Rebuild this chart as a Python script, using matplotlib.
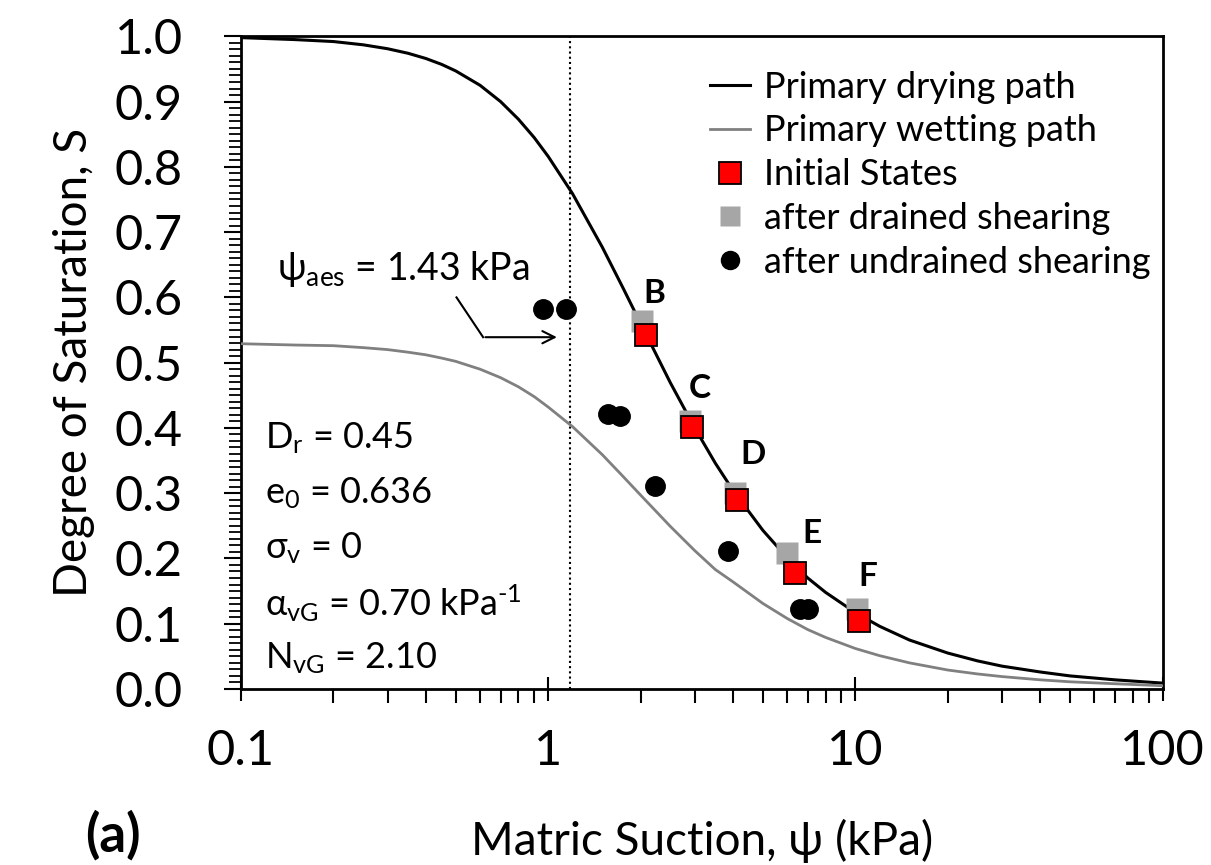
import matplotlib
matplotlib.use("Agg")
import matplotlib.pyplot as plt
from matplotlib.ticker import FixedLocator, FixedFormatter, MultipleLocator, LogLocator, NullFormatter
from matplotlib.lines import Line2D

plt.rcParams['font.family'] = ['Lato', 'Open Sans', 'DejaVu Sans']
plt.rcParams['mathtext.fontset'] = 'custom'
plt.rcParams['mathtext.rm'] = 'Lato'
plt.rcParams['mathtext.it'] = 'Lato:italic'
plt.rcParams['mathtext.bf'] = 'Lato:bold'

# primary drying / wetting paths
suction = [0.1, 0.15, 0.2, 0.25, 0.3, 0.35, 0.4, 0.45, 0.5, 0.6, 0.7, 0.8, 0.9, 1.0,
           1.2, 1.5, 1.75, 2.0, 2.5, 3.0, 3.5, 4.0, 5.0, 6.0, 7.0, 8.0, 10, 12, 15,
           20, 25, 30, 40, 50, 70, 100]
s_drying = [0.998, 0.995, 0.992, 0.987, 0.981, 0.974, 0.966, 0.957, 0.947, 0.925,
            0.900, 0.873, 0.845, 0.816, 0.759, 0.677, 0.615, 0.560, 0.469, 0.400,
            0.346, 0.304, 0.243, 0.201, 0.170, 0.148, 0.117, 0.096, 0.075, 0.055,
            0.043, 0.035, 0.026, 0.020, 0.014, 0.009]
s_wetting = [0.529, 0.527, 0.526, 0.523, 0.520, 0.516, 0.512, 0.507, 0.502, 0.490,
             0.477, 0.463, 0.448, 0.432, 0.402, 0.359, 0.326, 0.297, 0.249, 0.212,
             0.183, 0.164, 0.131, 0.108, 0.091, 0.079, 0.062, 0.051, 0.040, 0.029,
             0.023, 0.019, 0.014, 0.011, 0.008, 0.005]

# test points
labels = ['B', 'C', 'D', 'E', 'F']
init_psi = [2.08, 2.93, 4.12, 6.38, 10.3]
init_s = [0.543, 0.402, 0.290, 0.177, 0.104]
drained_psi = [2.02, 2.90, 4.05, 5.97, 10.1]
drained_s = [0.564, 0.410, 0.300, 0.209, 0.122]
undrained_psi = [0.96, 1.14, 1.57, 1.71, 2.22, 3.85, 6.6, 7.0]
undrained_s = [0.582, 0.582, 0.421, 0.419, 0.311, 0.212, 0.122, 0.122]
label_psi = [2.22, 3.12, 4.64, 7.21, 10.97]
label_s = [0.606, 0.460, 0.360, 0.238, 0.173]

psi_line = 1.18
params = [r'D$_\mathrm{r}$ = 0.45', r'e$_\mathrm{0}$ = 0.636', r'σ$_\mathrm{v}$ = 0',
          r'α$_\mathrm{vG}$ = 0.70 kPa$^\mathrm{‐1}$', r'N$_\mathrm{vG}$ = 2.10']

fig = plt.figure(figsize=(12.11, 8.65), dpi=100)
ax = fig.add_axes([0.199, 0.2035, 0.761, 0.7545])

ax.plot(suction, s_drying, color='black', lw=2.2, zorder=3)
ax.plot(suction, s_wetting, color='#808080', lw=2.0, zorder=3)
ax.axvline(psi_line, color='black', lw=1.5, ls=(0, (1, 1.5)), zorder=2)

ax.plot(drained_psi, drained_s, ls='none', marker='s', ms=16, color='#A6A6A6',
        mec='none', zorder=4)
ax.plot(init_psi, init_s, ls='none', marker='s', ms=16, mfc='#FF0000', mec='black',
        mew=1.3, zorder=5)
ax.plot(undrained_psi, undrained_s, ls='none', marker='o', ms=14, color='black', zorder=5)

for lab, x, y in zip(labels, label_psi, label_s):
    ax.text(x, y, lab, fontsize=24, fontweight='bold', ha='center', va='center')

ax.text(0.131, 0.644, r'ψ$_\mathrm{aes}$ = 1.43 kPa', fontsize=27, ha='left', va='center')
ax.plot([0.503, 0.614], [0.600, 0.539], color='black', lw=1.5)
ax.annotate('', xy=(1.09, 0.539), xytext=(0.612, 0.539),
            arrowprops=dict(arrowstyle='->', lw=1.5, color='black', mutation_scale=22))

for i, p in enumerate(params):
    ax.text(0.120, 0.385 - i * 0.0845, p, fontsize=26, ha='left', va='center')

ax.set_xscale('log')
ax.set_xlim(0.1, 100)
ax.set_ylim(0, 1)
ax.xaxis.set_major_locator(FixedLocator([0.1, 1, 10, 100]))
ax.xaxis.set_major_formatter(FixedFormatter(['0.1', '1', '10', '100']))
ax.xaxis.set_minor_locator(LogLocator(base=10, subs=range(2, 10)))
ax.xaxis.set_minor_formatter(NullFormatter())
ax.yaxis.set_major_locator(MultipleLocator(0.1))
ax.yaxis.set_minor_locator(MultipleLocator(0.01))
ax.yaxis.set_major_formatter(plt.FormatStrFormatter('%.1f'))

ax.tick_params(axis='x', which='major', direction='inout', length=17, width=1.5,
               labelsize=35, pad=20)
ax.tick_params(axis='x', which='minor', direction='out', length=10, width=1.5)
ax.tick_params(axis='y', which='major', direction='out', length=12, width=1.5,
               labelsize=35, pad=30)
ax.tick_params(axis='y', which='minor', direction='out', length=9, width=1.3)
for sp in ax.spines.values():
    sp.set_linewidth(2)

ax.set_xlabel('Matric Suction, ψ (kPa)', fontsize=33, labelpad=33)
ax.set_ylabel('Degree of Saturation, S', fontsize=33, labelpad=14)

handles = [
    Line2D([], [], color='black', lw=2.2),
    Line2D([], [], color='#808080', lw=2.0),
    Line2D([], [], ls='none', marker='s', ms=16, mfc='#FF0000', mec='black', mew=1.3),
    Line2D([], [], ls='none', marker='s', ms=15, color='#A6A6A6', mec='none'),
    Line2D([], [], ls='none', marker='o', ms=13, color='black'),
]
names = ['Primary drying path', 'Primary wetting path', 'Initial States',
         'after drained shearing', 'after undrained shearing']
ax.legend(handles, names, loc='upper right', bbox_to_anchor=(0.991, 0.953),
          frameon=False, fontsize=26, handlelength=1.1, handletextpad=0.4,
          labelspacing=0.3, borderaxespad=0, borderpad=0.1)

fig.text(0.093, 0.035, '(a)', fontsize=38, fontweight='bold', ha='center', va='center')

fig.savefig('out.png', dpi=100)
